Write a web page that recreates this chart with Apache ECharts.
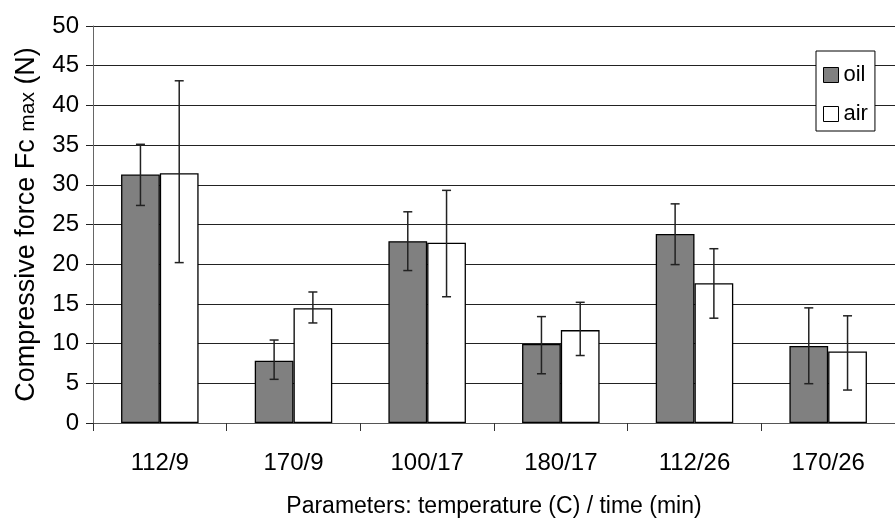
<!DOCTYPE html>
<html>
<head>
<meta charset="utf-8">
<script src="https://cdn.jsdelivr.net/npm/echarts@6/dist/echarts.min.js"></script>
<style>
  html, body { margin: 0; padding: 0; background: #fff; }
  #main { width: 895px; height: 523px; }
</style>
</head>
<body>
<div id="main"></div>
<script>
var categories = ['112/9', '170/9', '100/17', '180/17', '112/26', '170/26'];
var oilValues = [31.3, 7.85, 22.9, 9.95, 23.8, 9.7];
var oilLow = [27.4, 5.5, 19.2, 6.2, 19.95, 4.95];
var oilHigh = [35.1, 10.45, 26.6, 13.4, 27.6, 14.5];
var airValues = [31.45, 14.45, 22.7, 11.7, 17.6, 9.0];
var airLow = [20.2, 12.6, 15.9, 8.5, 13.2, 4.15];
var airHigh = [43.1, 16.5, 29.3, 15.2, 21.95, 13.5];

var font = 'Liberation Sans, Arial, sans-serif';

// error bar rows: [category, low, high, which bar (0 oil, 1 air)]
var errData = [];
for (var i = 0; i < categories.length; i++) {
    errData.push([i, oilLow[i], oilHigh[i], 0]);
    errData.push([i, airLow[i], airHigh[i], 1]);
}

function renderError(params, api) {
    var band = api.size([1, 0])[0];
    var shift = band * 0.58 / 4 * (api.value(3) === 0 ? -1 : 1);
    var lo = api.coord([api.value(0), api.value(1)]);
    var hi = api.coord([api.value(0), api.value(2)]);
    var x = lo[0] + shift;
    var cap = 4.5;
    var style = { stroke: '#222', lineWidth: 1.5 };
    return {
        type: 'group',
        children: [
            { type: 'line', shape: { x1: x, y1: lo[1], x2: x, y2: hi[1] }, style: style },
            { type: 'line', shape: { x1: x - cap, y1: lo[1], x2: x + cap, y2: lo[1] }, style: style },
            { type: 'line', shape: { x1: x - cap, y1: hi[1], x2: x + cap, y2: hi[1] }, style: style }
        ]
    };
}

var myChart = echarts.init(document.getElementById('main'));

myChart.setOption({
    animation: false,
    backgroundColor: '#fff',
    textStyle: { fontFamily: font },
    grid: { left: 93, right: -8, top: 26, bottom: 100 },
    legend: {
        data: ['oil', 'air'],
        orient: 'vertical',
        left: 816,
        top: 51,
        padding: [12, 7, 5, 7],
        itemGap: 15,
        itemWidth: 15,
        itemHeight: 15,
        icon: 'rect',
        itemStyle: { borderColor: '#000', borderWidth: 1 },
        backgroundColor: '#fff',
        borderColor: '#000',
        borderWidth: 1,
        textStyle: { fontSize: 22, lineHeight: 24, color: '#000', fontFamily: font }
    },
    xAxis: {
        type: 'category',
        data: categories,
        name: 'Parameters: temperature (C) / time (min)',
        nameLocation: 'middle',
        nameGap: 72,
        nameTextStyle: { fontSize: 23, color: '#000', fontFamily: font },
        axisLine: { lineStyle: { color: '#555', width: 1 } },
        axisTick: { show: true, length: 8, lineStyle: { color: '#333' } },
        axisLabel: { fontSize: 24, color: '#000', margin: 28, fontFamily: font }
    },
    yAxis: {
        type: 'value',
        min: 0,
        max: 50,
        interval: 5,
        name: '{a|Compressive force Fc }{b|max}{a| (N)}',
        nameLocation: 'middle',
        nameGap: 53,
        nameTextStyle: {
            color: '#000',
            rich: {
                a: { fontSize: 27, lineHeight: 27, color: '#000', fontFamily: font, verticalAlign: 'bottom' },
                b: { fontSize: 21, lineHeight: 21, color: '#000', fontFamily: font, verticalAlign: 'bottom', padding: [0, 0, 1, 0] }
            }
        },
        axisLine: { show: true, lineStyle: { color: '#666', width: 1 } },
        axisTick: { show: true, length: 7, lineStyle: { color: '#222' } },
        axisLabel: { fontSize: 24, color: '#000', margin: 14, fontFamily: font },
        splitLine: { show: true, lineStyle: { color: '#222', width: 1 } }
    },
    series: [
        {
            name: 'oil',
            type: 'bar',
            data: oilValues,
            barGap: '0%',
            barCategoryGap: '42%',
            itemStyle: { color: '#808080', borderColor: '#000', borderWidth: 1.3 }
        },
        {
            name: 'air',
            type: 'bar',
            data: airValues,
            barGap: '0%',
            barCategoryGap: '42%',
            itemStyle: { color: '#ffffff', borderColor: '#000', borderWidth: 1.3 }
        },
        {
            name: 'error',
            type: 'custom',
            renderItem: renderError,
            encode: { x: 0, y: [1, 2] },
            data: errData,
            z: 10
        }
    ]
});
</script>
</body>
</html>
